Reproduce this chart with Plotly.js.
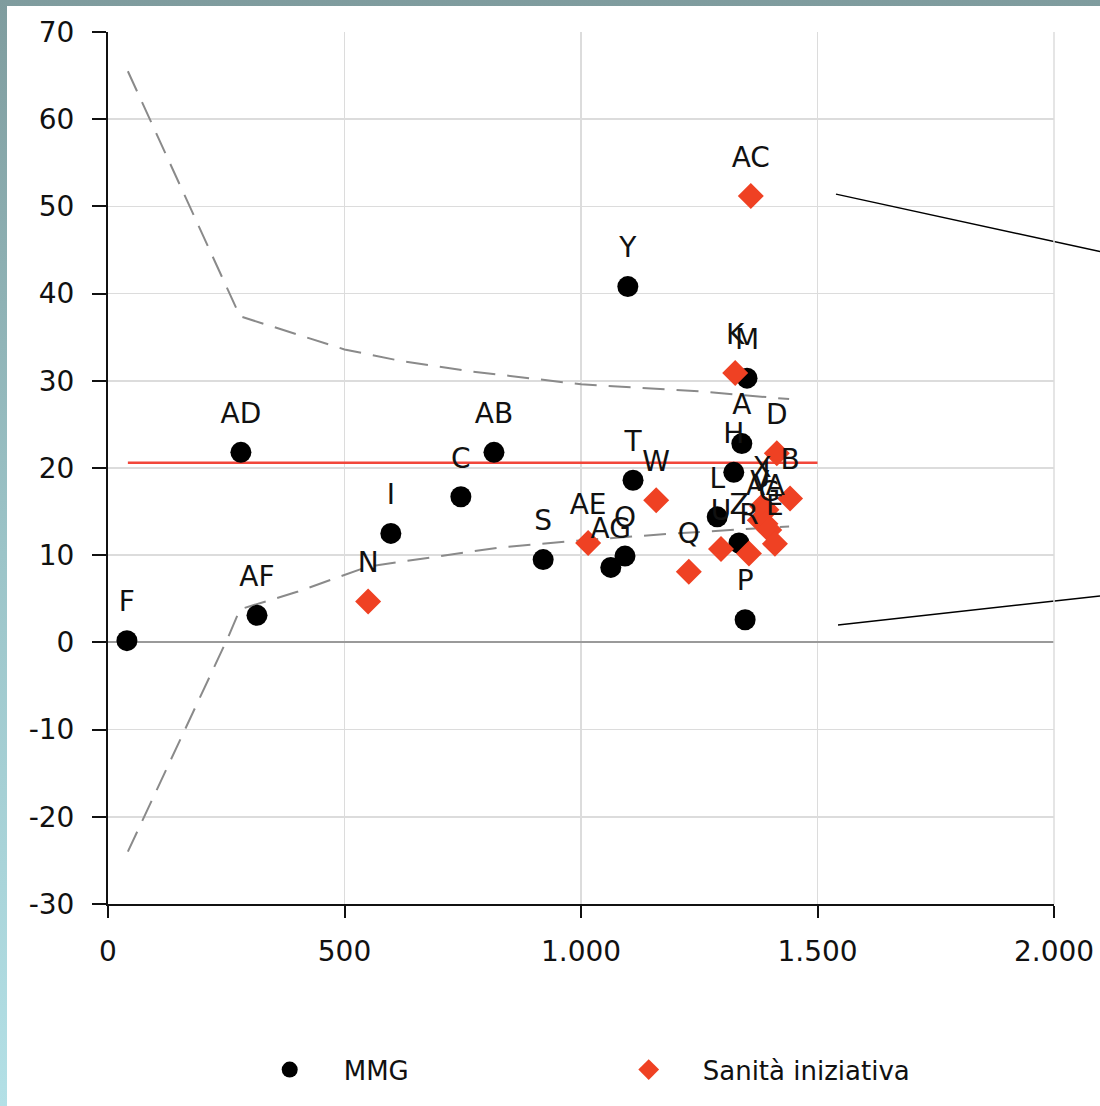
<!DOCTYPE html>
<html>
<head>
<meta charset="utf-8">
<script src="https://cdn.plot.ly/plotly-3.0.1.min.js"></script>
<style>
  html, body { margin: 0; padding: 0; }
  body { width: 1100px; height: 1106px; overflow: hidden;
         background: linear-gradient(to bottom, #7f9c9e 0%, #9cc4c8 50%, #b3e0e6 100%); position: relative; }
  #chart { position: absolute; left: 7px; top: 6px; width: 1093px; height: 1100px; background: #fff; }
</style>
</head>
<body>
<div id="chart"></div>
<script>
// MMG (black circles)
const mmgLabels = ["F", "AF", "AD", "I", "C", "AB", "S", "AG", "O", "Y", "T", "M", "A", "H", "L", "Z", "P"];
const mmgX = [40, 315, 281, 598, 746, 816, 920, 1063, 1093, 1099, 1110, 1351, 1340, 1323, 1288, 1334, 1347];
const mmgY = [0.2, 3.1, 21.8, 12.5, 16.7, 21.8, 9.5, 8.6, 9.9, 40.8, 18.6, 30.3, 22.8, 19.5, 14.4, 11.4, 2.6];

// Sanità iniziativa (red diamonds)
const siLabels = ["AC", "K", "N", "AE", "W", "Q", "U", "R", "D", "B", "X", "J", "V", "AA", "G", "E"];
const siX = [1359, 1326, 550, 1015, 1159, 1228, 1296, 1355, 1414, 1442, 1383, 1392, 1378, 1390, 1398, 1410];
const siY = [51.2, 30.9, 4.7, 11.4, 16.3, 8.1, 10.7, 10.2, 21.7, 16.5, 15.6, 15.2, 14.0, 13.6, 12.9, 11.3];

// reference (mean) line and control limits
const refX = [42, 1500];
const refY = [20.6, 20.6];
const upX = [42, 279, 500, 617, 765, 1000, 1250, 1440];
const upY = [65.5, 37.4, 33.6, 32.3, 31.1, 29.6, 28.8, 27.9];
const loX = [42, 254, 279, 400, 550, 830, 1000, 1200, 1440];
const loY = [-24.0, 0.6, 3.8, 5.8, 8.7, 10.9, 11.7, 12.5, 13.3];

const xTicks = [0, 500, 1000, 1500, 2000];
const xTickText = ["0", "500", "1.000", "1.500", "2.000"];
const yTicks = [-30, -20, -10, 0, 10, 20, 30, 40, 50, 60, 70];
const yTickText = ["-30", "-20", "-10", "0", "10", "20", "30", "40", "50", "60", "70"];

const FONT = "DejaVu Sans, Verdana, sans-serif";
const RED = "#ef4123";
const LABELFONT = { family: FONT, size: 28, color: "#111" };

const traces = [
  { x: upX, y: upY, mode: "lines", line: { color: "#8a8a8a", width: 2, dash: "22px,12px" }, showlegend: false, hoverinfo: "skip" },
  { x: loX, y: loY, mode: "lines", line: { color: "#8a8a8a", width: 2, dash: "22px,12px" }, showlegend: false, hoverinfo: "skip" },
  { x: refX, y: refY, mode: "lines", line: { color: "#f2463a", width: 2.5 }, showlegend: false, hoverinfo: "skip" },
  { x: mmgX, y: mmgY, name: "MMG", mode: "markers",
    marker: { symbol: "circle", size: 21, color: "#000" }, cliponaxis: false },
  { x: siX, y: siY, name: "Sanità iniziativa", mode: "markers",
    marker: { symbol: "diamond", size: 20, color: RED }, cliponaxis: false },
  // point labels (invisible larger markers give the label offset above each point)
  { x: mmgX, y: mmgY, text: mmgLabels, mode: "markers+text", textposition: "top center", textfont: LABELFONT,
    marker: { size: 34, opacity: 0 }, showlegend: false, hoverinfo: "skip", cliponaxis: false },
  { x: siX, y: siY, text: siLabels, mode: "markers+text", textposition: "top center", textfont: LABELFONT,
    marker: { size: 34, opacity: 0 }, showlegend: false, hoverinfo: "skip", cliponaxis: false }
];

const layout = {
  width: 1093, height: 1100,
  margin: { l: 101, r: 46, t: 26, b: 202 },
  paper_bgcolor: "#ffffff", plot_bgcolor: "#ffffff",
  font: { family: FONT, size: 26, color: "#111" },
  xaxis: {
    range: [0, 2000], tickvals: xTicks, ticktext: xTickText,
    showgrid: true, gridcolor: "#dcdcdc", gridwidth: 1.5,
    zeroline: false, showline: true, linecolor: "#111", linewidth: 2,
    ticks: "outside", ticklen: 12, tickwidth: 2, tickcolor: "#111",
    ticklabelstandoff: 9, tickfont: { family: FONT, size: 28, color: "#111" },
    mirror: false, automargin: false
  },
  yaxis: {
    range: [-30, 70], tickvals: yTicks, ticktext: yTickText,
    showgrid: true, gridcolor: "#dcdcdc", gridwidth: 1.5,
    zeroline: true, zerolinecolor: "#9a9a9a", zerolinewidth: 2,
    showline: true, linecolor: "#111", linewidth: 2,
    ticks: "outside", ticklen: 14, tickwidth: 2, tickcolor: "#111",
    ticklabelstandoff: 12, tickfont: { family: FONT, size: 28, color: "#111" }, automargin: false
  },
  shapes: [
    { type: "line", xref: "paper", yref: "paper", x0: (836 - 108) / 946, y0: (898 - 193) / 866, x1: (1100 - 108) / 946, y1: (898 - 250) / 866,
      line: { color: "#000", width: 1.5 } },
    { type: "line", xref: "paper", yref: "paper", x0: (838 - 108) / 946, y0: (898 - 621) / 866, x1: (1100 - 108) / 946, y1: (898 - 592) / 866,
      line: { color: "#000", width: 1.5 } },
    { type: "line", xref: "paper", yref: "paper", x0: 1, x1: 1, y0: 0, y1: 1, line: { color: "#dcdcdc", width: 1.5 } }
  ],
  legend: {
    orientation: "h", x: 0.135, xanchor: "left", y: -0.163, yanchor: "top",
    font: { family: FONT, size: 26, color: "#111" },
    itemwidth: 98, entrywidth: 246, entrywidthmode: "pixels",
    bgcolor: "rgba(0,0,0,0)"
  },
  showlegend: true
};

Plotly.newPlot("chart", traces, layout, { displayModeBar: false, staticPlot: true });
</script>
</body>
</html>
